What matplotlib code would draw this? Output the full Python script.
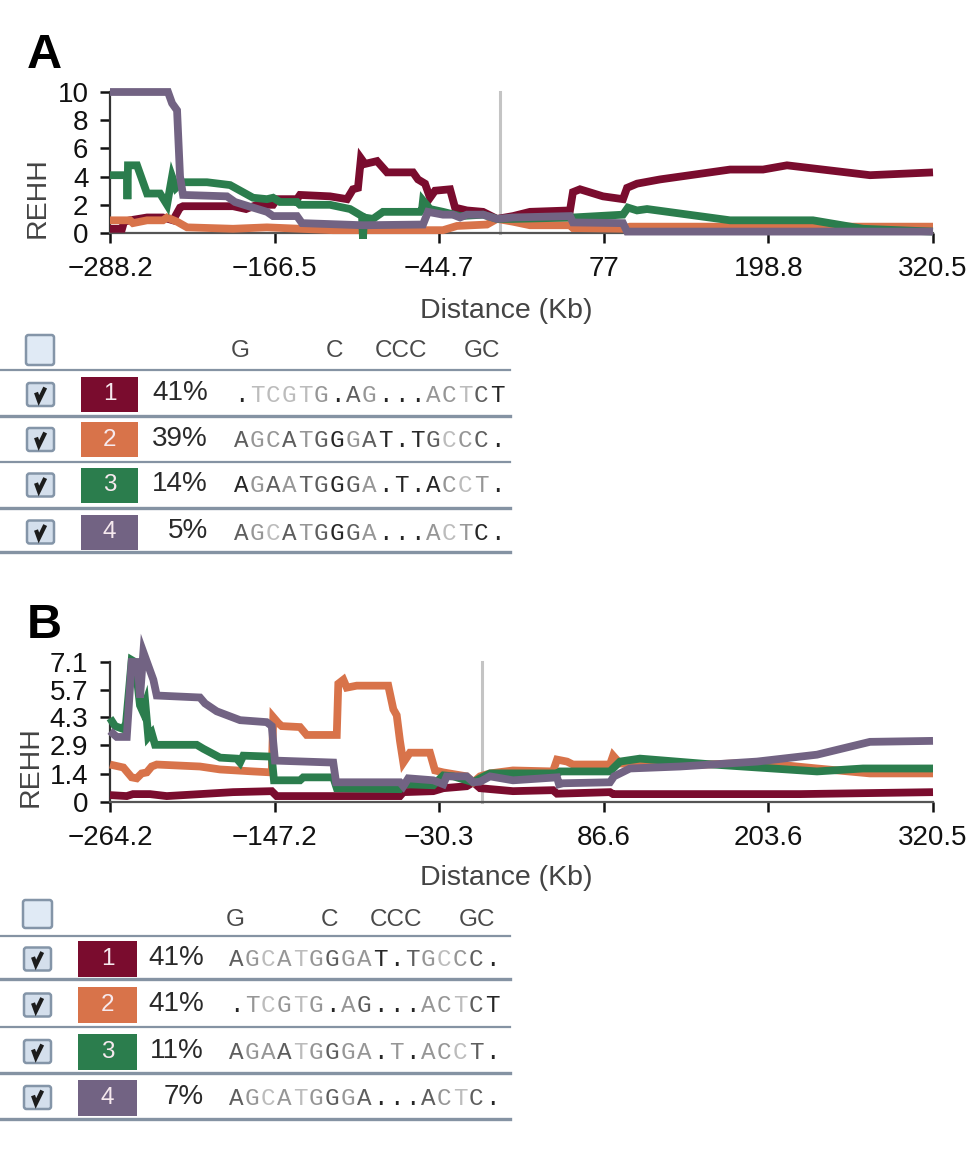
import matplotlib
matplotlib.use('Agg')
import matplotlib.pyplot as plt
from matplotlib.patches import Rectangle, FancyBboxPatch
from matplotlib.lines import Line2D

# ---------------- data ----------------
hap_colors = ['#7a0c2e', '#d8734a', '#2b7d4d', '#726383']

# Panel A
A_xticks = [-288.2, -166.5, -44.7, 77, 198.8, 320.5]
A_yticks = [0, 2, 4, 6, 8, 10]
A_pos_1 = [-288.2, -279.3, -277.8, -273.4, -260.8, -249.0, -241.6, -236.4, -234.2, -197.2, -187.6, -179.5,
           -167.6, -164.7, -149.9, -147.7, -125.5, -112.9, -108.5, -104.8, -102.6, -99.6, -90.7, -83.3,
           -64.1, -60.4, -55.2, -51.5, -47.8, -36.7, -33.0, -24.2, -12.3, -2.0, 9.9, 22.4, 52.0, 54.2,
           59.4, 76.4, 91.2, 94.2, 101.6, 118.6, 170.4, 194.8, 212.5, 273.9, 320.5]
A_rehh_1 = [0.3, 0.3, 0.8, 0.9, 1.1, 1.1, 0.9, 1.8, 1.9, 1.9, 1.7, 2.0,
            2.0, 2.4, 2.4, 2.7, 2.6, 2.4, 3.1, 3.2, 5.3, 4.9, 5.1, 4.3,
            4.3, 3.8, 3.5, 2.5, 3.0, 3.1, 1.8, 1.6, 1.5, 1.0, 1.2, 1.5, 1.6, 2.9,
            3.1, 2.6, 2.4, 3.2, 3.5, 3.8, 4.5, 4.5, 4.8, 4.1, 4.3]
A_pos_2 = [-288.2, -273.4, -271.2, -260.8, -249.0, -246.0, -238.6, -231.2, -197.2, -172.1, -147.7,
           -123.3, -41.9, -31.6, -9.4, -2.0, 9.9, 22.4, 52.0, 54.2, 91.2, 96.4, 320.5]
A_rehh_2 = [0.9, 0.9, 0.7, 0.9, 0.9, 1.1, 0.8, 0.4, 0.3, 0.4, 0.3,
            0.2, 0.2, 0.5, 0.6, 1.0, 0.8, 0.55, 0.55, 0.35, 0.3, 0.45, 0.45]
A_pos_3 = [-288.2, -275.6, -275.3, -274.9, -268.2, -260.8, -251.2, -246.0, -242.3, -239.4, -234.9,
           -216.5, -199.4, -182.4, -172.1, -167.6, -162.5, -149.9, -147.7, -125.5, -110.7, -101.8,
           -101.1, -100.3, -93.7, -86.3, -58.9, -57.4, -56.7, -51.5, -41.9, -29.3, -12.3, -2.0, 9.9,
           54.2, 91.2, 94.9, 101.6, 109.0, 170.4, 231.7, 268.7, 320.5]
A_rehh_3 = [4.1, 4.1, 2.4, 4.8, 4.8, 2.8, 2.8, 2.0, 4.0, 3.2, 3.6,
            3.6, 3.4, 2.5, 2.4, 2.5, 2.2, 2.2, 2.0, 2.0, 1.7, 1.2,
            -0.4, 1.1, 1.0, 1.5, 1.5, 1.7, 2.3, 1.7, 1.5, 1.2, 1.3, 1.0, 1.0,
            1.1, 1.3, 1.8, 1.6, 1.7, 0.9, 0.9, 0.3, 0.1]
A_pos_4 = [-288.2, -245.3, -242.3, -238.6, -236.4, -234.2, -201.7, -195.8, -182.4, -172.1, -167.6,
           -149.9, -146.2, -101.1, -56.7, -53.0, -41.9, -34.5, -29.3, -24.2, -12.3, -2.0, 9.9, 52.0,
           54.2, 91.2, 94.2, 320.5]
A_rehh_4 = [10.0, 10.0, 9.2, 8.7, 4.0, 2.7, 2.6, 2.2, 1.8, 1.5, 1.2,
            1.2, 0.7, 0.55, 0.6, 1.5, 1.3, 1.3, 1.1, 1.3, 1.3, 1.0, 1.1, 1.2,
            0.75, 0.7, 0.1, 0.1]

# Panel B
B_xticks = [-264.2, -147.2, -30.3, 86.6, 203.6, 320.5]
B_yticks = [0, 1.4, 2.9, 4.3, 5.7, 7.1]
B_pos_1 = [-264.2, -252.3, -247.9, -235.8, -223.9, -200.3, -176.8, -149.3, -145.8, -58.2, -55.8,
           -34.5, -27.4, -10.8, -6.1, -1.3, 22.1, 50.5, 53.4, 91.0, 93.2, 226.0, 320.5]
B_rehh_1 = [0.35, 0.3, 0.4, 0.4, 0.3, 0.4, 0.5, 0.55, 0.3, 0.3, 0.5,
            0.55, 0.7, 0.8, 1.0, 0.7, 0.55, 0.6, 0.42, 0.5, 0.4, 0.4, 0.5]
B_pos_2 = [-264.2, -254.7, -248.8, -245.2, -241.7, -238.1, -234.6, -231.0, -200.3, -186.0, -162.4,
           -149.3, -148.2, -144.6, -142.2, -129.2, -124.5, -103.1, -102.0, -98.4, -96.0, -88.9,
           -66.5, -62.9, -60.5, -58.2, -55.8, -51.1, -36.9, -33.3, -27.4, -10.8, -6.1, -1.3, 5.8,
           22.1, 50.5, 53.4, 60.5, 64.7, 91.0, 93.2, 98.1, 140.8, 195.5, 238.1, 275.7, 320.5]
B_rehh_2 = [1.9, 1.75, 1.25, 1.2, 1.45, 1.5, 1.8, 1.9, 1.8, 1.65, 1.55,
            1.5, 4.3, 4.0, 3.85, 3.8, 3.4, 3.4, 6.0, 6.2, 5.8, 5.9,
            5.9, 4.7, 4.4, 3.1, 2.0, 2.5, 2.5, 1.6, 1.5, 1.3, 1.0, 1.3, 1.45,
            1.6, 1.55, 2.15, 2.05, 1.9, 1.9, 2.35, 1.95, 1.85, 2.0, 1.7, 1.45, 1.45]
B_pos_3 = [-264.2, -260.6, -254.7, -252.8, -248.8, -246.4, -242.9, -241.0, -239.1, -237.0, -234.6,
           -232.2, -202.6, -197.9, -186.0, -174.2, -171.8, -169.5, -149.3, -147.7, -129.2, -126.9,
           -105.6, -103.1, -58.2, -54.6, -34.5, -27.4, -20.3, -6.1, -1.3, 5.8, 53.4, 55.5, 91.0,
           98.1, 112.3, 164.2, 238.1, 270.8, 320.5]
B_rehh_3 = [4.25, 3.85, 3.7, 4.0, 7.2, 7.1, 4.9, 4.6, 5.0, 3.3, 3.5,
            2.9, 2.9, 2.7, 2.25, 2.2, 2.0, 2.35, 2.3, 1.1, 1.1, 1.25,
            1.25, 0.7, 0.65, 0.9, 0.85, 1.35, 1.3, 1.0, 1.2, 1.45, 1.45, 1.55, 1.55,
            2.05, 2.2, 1.9, 1.55, 1.7, 1.7]
B_pos_4 = [-264.2, -259.4, -252.3, -248.8, -244.5, -242.9, -240.5, -233.4, -231.0, -200.3, -196.7,
           -188.4, -171.8, -152.9, -149.3, -147.0, -105.6, -103.6, -58.2, -55.8, -52.3, -34.5,
           -27.4, -25.0, -10.8, -6.1, -1.3, 5.8, 22.1, 53.4, 54.8, 57.6, 91.0, 93.9, 105.2, 140.8,
           195.5, 238.1, 275.7, 320.5]
B_rehh_4 = [3.6, 3.3, 3.3, 7.1, 7.1, 5.3, 7.6, 6.2, 5.4, 5.3, 5.0,
            4.6, 4.15, 4.05, 3.85, 2.1, 2.0, 1.0, 1.0, 0.8, 1.2, 1.1,
            0.9, 1.3, 1.3, 1.0, 1.03, 1.3, 1.1, 1.25, 0.9, 0.95, 1.0, 1.3, 1.7, 1.8,
            2.05, 2.4, 3.05, 3.1]

# Tables
hap_numbers = ['1', '2', '3', '4']
header_letters = ['G', 'C', 'CCC', 'GC']
A_percent = ['41%', '39%', '14%', '5%']
A_seqs = ['.TCGTG.AG...ACTCT', 'AGCATGGGAT.TGCCC.', 'AGAATGGGA.T.ACCT.', 'AGCATGGGA...ACTC.']
A_shades = ['03333201200022310', '12212102100013210', '02121101200002320', '12312101200023200']
B_percent = ['41%', '41%', '11%', '7%']
B_seqs = ['AGCATGGGAT.TGCCC.', '.TCGTG.AG...ACTCT', 'AGAATGGGA.T.ACCT.', 'AGCATGGGA...ACTC.']
B_shades = ['12323212200123210', '02323202100022310', '12213212202022310', '12323212100012310']
B_colors = [hap_colors[0], hap_colors[1], hap_colors[2], hap_colors[3]]

# ---------------- figure ----------------
W, H = 980, 1174
plt.rcParams['font.family'] = ['Liberation Sans', 'DejaVu Sans']
fig = plt.figure(figsize=(W / 100, H / 100), dpi=100)


def ax_rect(x0, x1, ytop, ybot):
    return [x0 / W, 1 - ybot / H, (x1 - x0) / W, (ybot - ytop) / H]


def style_axis(ax, xticks, yticks, xlim, ylim, ylab_x, xlab_y):
    ax.set_xlim(*xlim)
    ax.set_ylim(*ylim)
    for s in ['top', 'right']:
        ax.spines[s].set_visible(False)
    ax.spines['left'].set_color('#333333')
    ax.spines['left'].set_linewidth(1.6)
    ax.spines['bottom'].set_color('#555555')
    ax.spines['bottom'].set_linewidth(1.6)
    ax.set_xticks(xticks)
    ax.set_xticklabels([('\u2212' + f'{abs(t):g}') if t < 0 else f'{t:g}' for t in xticks])
    ax.set_yticks(yticks)
    ax.set_yticklabels([f'{t:g}' for t in yticks])
    ax.tick_params(axis='x', direction='out', length=7.5, width=1.8, color='#111111',
                   labelsize=20, pad=9, labelcolor='#111111')
    ax.tick_params(axis='y', direction='out', length=7.5, width=1.8, color='#111111',
                   labelsize=20, pad=8, labelcolor='#111111')
    ax.set_xlabel('Distance (Kb)', fontsize=20.5, color='#444444', va='center')
    ax.xaxis.set_label_coords(0.482, xlab_y)
    ax.set_ylabel('REHH', fontsize=20.5, color='#444444', va='center')
    ax.yaxis.set_label_coords(ylab_x, 0.25)
    ax.patch.set_alpha(0)


axA = fig.add_axes(ax_rect(110, 933, 92, 233))
axB = fig.add_axes(ax_rect(110, 933, 662, 802))

style_axis(axA, A_xticks, A_yticks, (-288.2, 320.5), (0, 10), -0.088, -0.553)
style_axis(axB, B_xticks, B_yticks, (-264.2, 320.5), (0, 7.1), -0.096, -0.545)

axA.plot([0, 0], [0, 10], color='#c4c4c4', lw=2.2, zorder=1, clip_on=False)
axB.plot([0, 0], [0, 7.1], color='#c4c4c4', lw=2.2, zorder=1, clip_on=False)

A_series = [(A_pos_1, A_rehh_1), (A_pos_2, A_rehh_2), (A_pos_3, A_rehh_3), (A_pos_4, A_rehh_4)]
B_series = [(B_pos_1, B_rehh_1), (B_pos_2, B_rehh_2), (B_pos_3, B_rehh_3), (B_pos_4, B_rehh_4)]
for i, (p, v) in enumerate(A_series):
    axA.plot(p, v, color=hap_colors[i], lw=5.6, clip_on=False, zorder=3 + i,
             solid_joinstyle='miter', solid_capstyle='butt')
for i, (p, v) in enumerate(B_series):
    axB.plot(p, v, color=B_colors[i], lw=5.6, clip_on=False, zorder=3 + i,
             solid_joinstyle='miter', solid_capstyle='butt')

# ---------------- overlay (tables, panel letters) ----------------
ov = fig.add_axes([0, 0, 1, 1], zorder=-1)
ov.set_xlim(0, W)
ov.set_ylim(H, 0)
ov.axis('off')

ov.text(27, 68, 'A', fontsize=35, fontweight='bold', color='black', va='baseline', ha='left')
ov.text(27, 638, 'B', fontsize=35, fontweight='bold', color='black', va='baseline', ha='left')

shade_map = {'0': '#262626', '1': '#5e5e5e', '2': '#969696', '3': '#bcbcbc'}


def checkbox(x, y, w, h, checked):
    fc = '#d4dfec' if checked else '#e0eaf5'
    ov.add_patch(FancyBboxPatch((x, y), w, h, boxstyle='round,pad=0,rounding_size=2.5',
                                fc=fc, ec='#8495a8', lw=1.8))
    if checked:
        ov.add_line(Line2D([x + 0.36 * w, x + 0.44 * w, x + 0.64 * w],
                           [y + 0.5 * h, y + 0.76 * h, y + 0.28 * h],
                           color='#1c1c1c', lw=3.0, solid_joinstyle='miter'))


def table(hdr_box, hdr_y, line_ys, row_ys, sw_x0, sw_x1, sw_h, cb_x, pct_x, seq_x, percents,
          seqs, shades, colors, line_w):
    checkbox(hdr_box[0], hdr_box[1], hdr_box[2], hdr_box[3], False)
    hx = [seq_x + 7, seq_x + 101, seq_x + 168, seq_x + 249]
    for s, x in zip(header_letters, hx):
        ov.text(x, hdr_y, s, fontsize=17.5, color='#4a4a4a', ha='center', va='center')
    for k, ly in enumerate(line_ys):
        ov.add_line(Line2D([0, line_w], [ly, ly], color='#8593a3',
                           lw=2.4 if k % 2 == 1 or k == 4 else 1.6))
    for r, cy in enumerate(row_ys):
        checkbox(cb_x, cy - 11.5, 27, 23, True)
        ov.add_patch(Rectangle((sw_x0, cy - sw_h / 2), sw_x1 - sw_x0, sw_h, fc=colors[r], ec='none'))
        ov.text((sw_x0 + sw_x1) / 2, cy, hap_numbers[r], fontsize=17.5, color='#f6e9ee',
                ha='center', va='center')
        ov.text(pct_x, cy - 1, percents[r], fontsize=20, color='#2a2a2a', ha='right', va='center')
        for j, (ch, sh) in enumerate(zip(seqs[r], shades[r])):
            ov.text(seq_x + 8 + 16 * j, cy + 1, ch, fontsize=17.5,
                    family=['Liberation Mono', 'DejaVu Sans Mono'],
                    color=shade_map[sh], ha='center', va='center')


table((26, 335, 28, 30), 351, [370, 416, 462, 508, 552], [394.5, 439.5, 485, 532],
      81, 138, 35, 27, 208, 233, A_percent, A_seqs, A_shades, hap_colors, 510)
table((23, 900, 29, 28), 920, [936, 979, 1027, 1073, 1119], [959, 1005, 1051.5, 1097.5],
      78, 137, 36, 24, 204, 228, B_percent, B_seqs, B_shades, B_colors, 510)

fig.savefig('out.png', dpi=100)
